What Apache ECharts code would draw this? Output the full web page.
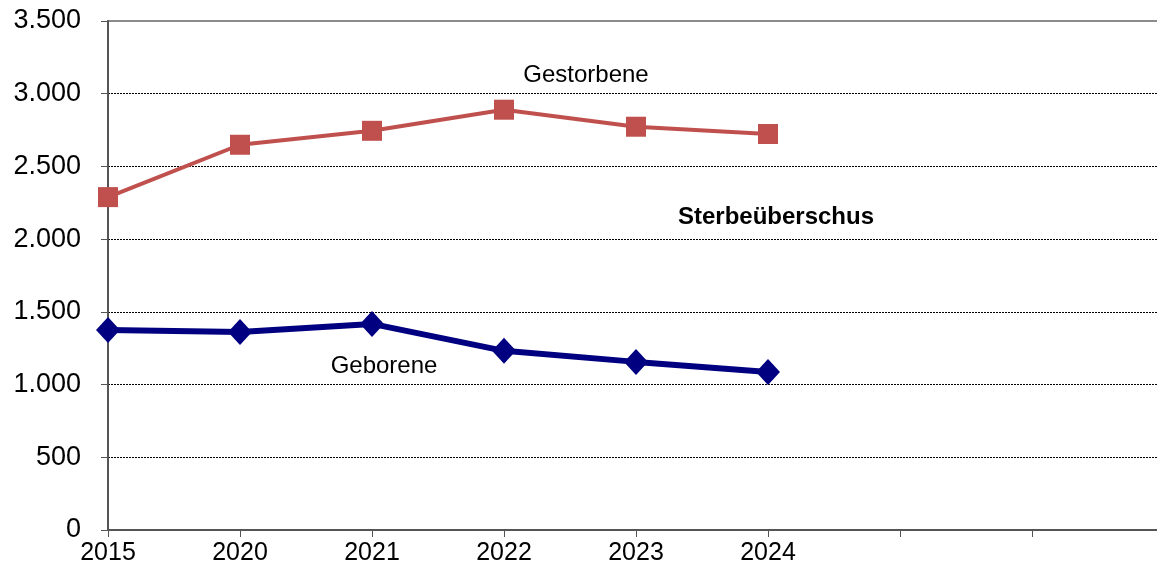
<!DOCTYPE html>
<html>
<head>
<meta charset="utf-8">
<script src="https://cdn.jsdelivr.net/npm/echarts@6/dist/echarts.min.js"></script>
<style>
  html, body { margin: 0; padding: 0; background: #fff; overflow: hidden; }
  /* etwas breiter als das Fenster: rechter Rand der Grafik ist im Original abgeschnitten */
  #main { width: 1170px; height: 567px; }
</style>
</head>
<body>
<div id="main"></div>
<script>
// Kategorien (die letzten drei Achsenpositionen sind leer)
const years = ["2015", "2020", "2021", "2022", "2023", "2024", "", "", ""];
const gestorbene = [2289, 2649, 2745, 2890, 2773, 2723];
const geborene = [1376, 1362, 1417, 1232, 1156, 1087];

const chart = echarts.init(document.getElementById("main"));
const font = "Liberation Sans, Arial, sans-serif";

function fmt(v) {
  // Tausenderpunkt wie im Original
  return String(v).replace(/\B(?=(\d{3})+(?!\d))/g, ".");
}

const option = {
  animation: false,
  grid: {
    left: 108,
    right: 6,
    top: 21,
    bottom: 37,
    show: true,
    borderColor: "#8c8c8c",
    borderWidth: 2,
  },
  xAxis: {
    type: "category",
    data: years,
    boundaryGap: false,
    axisLine: { lineStyle: { color: "#555", width: 2 } },
    axisTick: { show: true, length: 7, lineStyle: { color: "#555", width: 1 }, interval: 0 },
    axisLabel: {
      color: "#000",
      fontSize: 25,
      fontFamily: font,
      margin: 11,
      interval: 0,
    },
    splitLine: { show: false },
  },
  yAxis: {
    type: "value",
    min: 0,
    max: 3500,
    interval: 500,
    axisLine: { show: true, lineStyle: { color: "#555", width: 2 } },
    axisTick: { show: true, length: 7, lineStyle: { color: "#555", width: 1 } },
    axisLabel: {
      color: "#000",
      fontSize: 27,
      fontFamily: font,
      margin: 27,
      formatter: fmt,
    },
    splitLine: {
      show: true,
      showMaxLine: false,
      lineStyle: { color: "#000", width: 1, type: [2, 1] },
    },
  },
  series: [
    {
      name: "Gestorbene",
      type: "line",
      data: gestorbene,
      symbol: "rect",
      symbolSize: 20,
      lineStyle: { color: "#c0504d", width: 4 },
      itemStyle: { color: "#c0504d" },
      z: 3,
    },
    {
      name: "Geborene",
      type: "line",
      data: geborene,
      symbol: "diamond",
      symbolSize: [24, 26],
      lineStyle: { color: "#000080", width: 6 },
      itemStyle: { color: "#000080" },
      z: 3,
    },
  ],
  graphic: [
    {
      type: "text",
      x: 586,
      y: 75,
      style: { text: "Gestorbene", fontSize: 24, fill: "#000", fontFamily: font, align: "center", verticalAlign: "middle" },
    },
    {
      type: "text",
      x: 384,
      y: 366,
      style: { text: "Geborene", fontSize: 24, fill: "#000", fontFamily: font, align: "center", verticalAlign: "middle" },
    },
    {
      type: "text",
      x: 776,
      y: 217,
      style: { text: "Sterbeüberschus", fontSize: 24, fontWeight: "bold", fill: "#000", fontFamily: font, align: "center", verticalAlign: "middle" },
    },
  ],
};

chart.setOption(option);
</script>
</body>
</html>
